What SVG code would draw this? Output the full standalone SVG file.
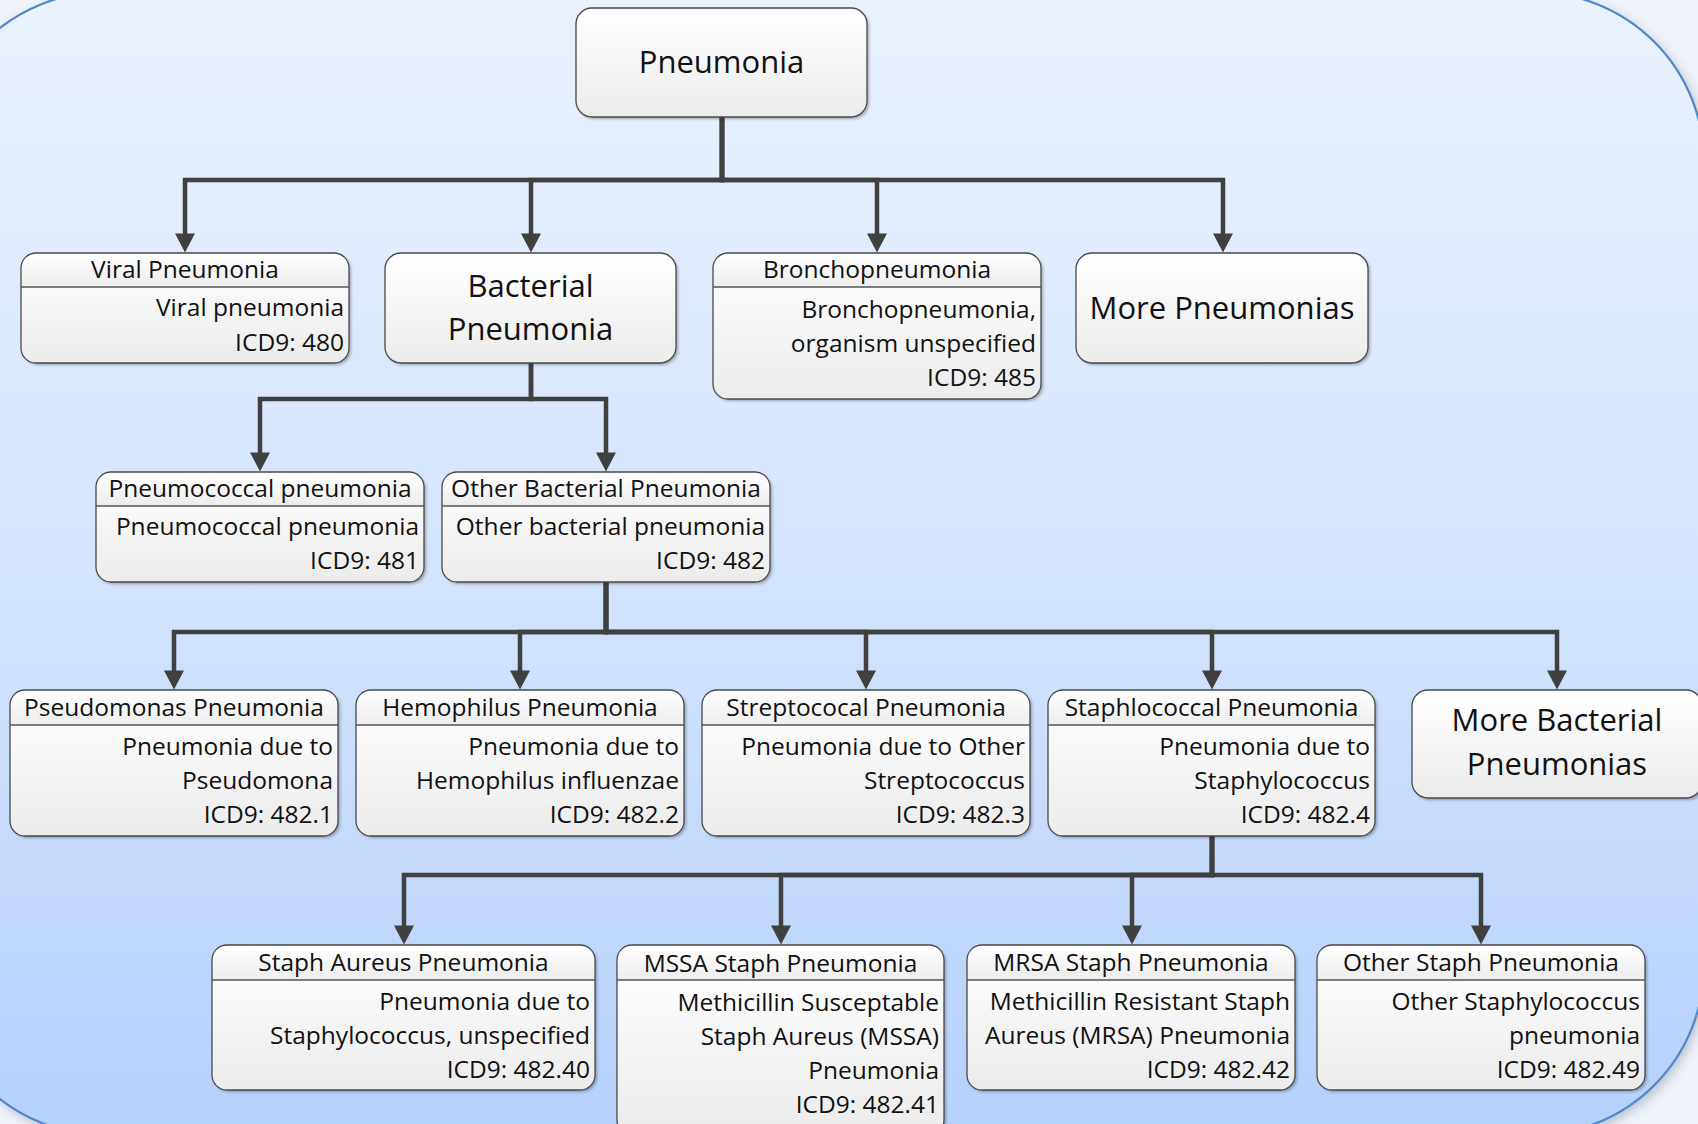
<svg xmlns="http://www.w3.org/2000/svg" width="1698" height="1124" viewBox="0 0 1698 1124">
  <defs>
    <linearGradient id="gPanel" x1="0" y1="0" x2="0" y2="1124" gradientUnits="userSpaceOnUse">
      <stop offset="0" stop-color="#ebf2fe"/>
      <stop offset="0.5" stop-color="#d4e4fd"/>
      <stop offset="1" stop-color="#b6d1fc"/>
    </linearGradient>
    <linearGradient id="gBody" x1="0" y1="0" x2="0" y2="1">
      <stop offset="0" stop-color="#ffffff"/>
      <stop offset="1" stop-color="#ececec"/>
    </linearGradient>
    <linearGradient id="gBar" x1="0" y1="0" x2="0" y2="1">
      <stop offset="0" stop-color="#ffffff"/>
      <stop offset="1" stop-color="#ededed"/>
    </linearGradient>
    <filter id="sh" x="-5%" y="-5%" width="112%" height="115%">
      <feDropShadow dx="2" dy="2" stdDeviation="1.6" flood-color="#000" flood-opacity="0.3"/>
    </filter>
    <filter id="panelShadow" x="-10%" y="-10%" width="120%" height="120%">
      <feGaussianBlur stdDeviation="6"/>
    </filter>
    <marker id="arrow" markerUnits="userSpaceOnUse" markerWidth="20" markerHeight="20" viewBox="0 0 18 19" refX="10" refY="9.5" orient="auto">
      <path d="M0,0 L18,9.5 L0,19 Z" fill="#404040"/>
    </marker>
    <style>
      .box { fill: url(#gBody); filter: url(#sh); }
      .bar { fill: url(#gBar); }
      .edge { fill: none; stroke: #4a4a4a; stroke-width: 1.3; }
      .sep { stroke: #555; stroke-width: 1.3; }
      .t { font-family: 'Open Sans', 'Liberation Sans', sans-serif; font-size: 24.5px; fill: #111; }
      .big { font-size: 31px; }
      .c { text-anchor: middle; }
      .r { text-anchor: end; }
      .link { fill: none; stroke: #404040; stroke-width: 4.5; stroke-linejoin: miter; marker-end: url(#arrow); }
    </style>
  </defs>

  <!-- page and rounded panel -->
  <rect x="0" y="0" width="1698" height="1124" fill="#eff3fa"/>
  <rect x="-62" y="-4" width="1769" height="1143" rx="170" fill="#7f8ca6" opacity="0.55" filter="url(#panelShadow)"/>
  <rect x="-65.5" y="-8" width="1769.5" height="1143" rx="170" fill="url(#gPanel)" stroke="#4d88c9" stroke-width="2.2"/>

  <!-- connectors -->
  <g id="connectors">
    <path class="link" d="M722,117 V180 H185 V244"/>
    <path class="link" d="M722,117 V180 H531 V244"/>
    <path class="link" d="M722,117 V180 H877 V244"/>
    <path class="link" d="M722,117 V180 H1223 V244"/>
    <path class="link" d="M531,363 V399 H260 V463"/>
    <path class="link" d="M531,363 V399 H606 V463"/>
    <path class="link" d="M606,582 V632 H174 V681"/>
    <path class="link" d="M606,582 V632 H520 V681"/>
    <path class="link" d="M606,582 V632 H866 V681"/>
    <path class="link" d="M606,582 V632 H1212 V681"/>
    <path class="link" d="M606,582 V632 H1557 V681"/>
    <path class="link" d="M1212,836 V875 H404 V936"/>
    <path class="link" d="M1212,836 V875 H781 V936"/>
    <path class="link" d="M1212,836 V875 H1132 V936"/>
    <path class="link" d="M1212,836 V875 H1481 V936"/>
  </g>

  <!-- root -->
  <g id="n-pneumonia">
    <rect class="box" x="576" y="8" width="291" height="109" rx="16"/>
    <rect class="edge" x="576" y="8" width="291" height="109" rx="16"/>
    <text class="t big c" x="721.5" y="73">Pneumonia</text>
  </g>

  <!-- level 1 -->
  <g id="n-viral">
    <rect class="box" x="21" y="253" width="328" height="110" rx="15"/>
    <path class="bar" d="M21,287 V268 A15,15 0 0 1 36,253 H334 A15,15 0 0 1 349,268 V287 Z"/>
    <rect class="edge" x="21" y="253" width="328" height="110" rx="15"/>
    <line class="sep" x1="21" y1="287" x2="349" y2="287"/>
    <text class="t c" x="185" y="278">Viral Pneumonia</text>
    <text class="t r" x="344" y="316">Viral pneumonia</text>
    <text class="t r" x="344" y="351">ICD9: 480</text>
  </g>

  <g id="n-bacterial">
    <rect class="box" x="385" y="253" width="291" height="110" rx="16"/>
    <rect class="edge" x="385" y="253" width="291" height="110" rx="16"/>
    <text class="t big c" x="530.5" y="297">Bacterial</text>
    <text class="t big c" x="530.5" y="340">Pneumonia</text>
  </g>

  <g id="n-broncho">
    <rect class="box" x="713" y="253" width="328" height="146" rx="15"/>
    <path class="bar" d="M713,287 V268 A15,15 0 0 1 728,253 H1026 A15,15 0 0 1 1041,268 V287 Z"/>
    <rect class="edge" x="713" y="253" width="328" height="146" rx="15"/>
    <line class="sep" x1="713" y1="287" x2="1041" y2="287"/>
    <text class="t c" x="877" y="278">Bronchopneumonia</text>
    <text class="t r" x="1036" y="318">Bronchopneumonia,</text>
    <text class="t r" x="1036" y="352">organism unspecified</text>
    <text class="t r" x="1036" y="386">ICD9: 485</text>
  </g>

  <g id="n-more">
    <rect class="box" x="1076" y="253" width="292" height="110" rx="16"/>
    <rect class="edge" x="1076" y="253" width="292" height="110" rx="16"/>
    <text class="t big c" x="1222" y="319">More Pneumonias</text>
  </g>

  <!-- level 2 -->
  <g id="n-pneumococcal">
    <rect class="box" x="96" y="472" width="328" height="110" rx="15"/>
    <path class="bar" d="M96,506 V487 A15,15 0 0 1 111,472 H409 A15,15 0 0 1 424,487 V506 Z"/>
    <rect class="edge" x="96" y="472" width="328" height="110" rx="15"/>
    <line class="sep" x1="96" y1="506" x2="424" y2="506"/>
    <text class="t c" x="260" y="497">Pneumococcal pneumonia</text>
    <text class="t r" x="419" y="535">Pneumococcal pneumonia</text>
    <text class="t r" x="419" y="569">ICD9: 481</text>
  </g>

  <g id="n-otherbact">
    <rect class="box" x="442" y="472" width="328" height="110" rx="15"/>
    <path class="bar" d="M442,506 V487 A15,15 0 0 1 457,472 H755 A15,15 0 0 1 770,487 V506 Z"/>
    <rect class="edge" x="442" y="472" width="328" height="110" rx="15"/>
    <line class="sep" x1="442" y1="506" x2="770" y2="506"/>
    <text class="t c" x="606" y="497">Other Bacterial Pneumonia</text>
    <text class="t r" x="765" y="535">Other bacterial pneumonia</text>
    <text class="t r" x="765" y="569">ICD9: 482</text>
  </g>

  <!-- level 3 -->
  <g id="n-pseudomonas">
    <rect class="box" x="10" y="690" width="328" height="146" rx="15"/>
    <path class="bar" d="M10,725 V705 A15,15 0 0 1 25,690 H323 A15,15 0 0 1 338,705 V725 Z"/>
    <rect class="edge" x="10" y="690" width="328" height="146" rx="15"/>
    <line class="sep" x1="10" y1="725" x2="338" y2="725"/>
    <text class="t c" x="174" y="716">Pseudomonas Pneumonia</text>
    <text class="t r" x="333" y="755">Pneumonia due to</text>
    <text class="t r" x="333" y="789">Pseudomona</text>
    <text class="t r" x="333" y="823">ICD9: 482.1</text>
  </g>

  <g id="n-hemophilus">
    <rect class="box" x="356" y="690" width="328" height="146" rx="15"/>
    <path class="bar" d="M356,725 V705 A15,15 0 0 1 371,690 H669 A15,15 0 0 1 684,705 V725 Z"/>
    <rect class="edge" x="356" y="690" width="328" height="146" rx="15"/>
    <line class="sep" x1="356" y1="725" x2="684" y2="725"/>
    <text class="t c" x="520" y="716">Hemophilus Pneumonia</text>
    <text class="t r" x="679" y="755">Pneumonia due to</text>
    <text class="t r" x="679" y="789">Hemophilus influenzae</text>
    <text class="t r" x="679" y="823">ICD9: 482.2</text>
  </g>

  <g id="n-streptococal">
    <rect class="box" x="702" y="690" width="328" height="146" rx="15"/>
    <path class="bar" d="M702,725 V705 A15,15 0 0 1 717,690 H1015 A15,15 0 0 1 1030,705 V725 Z"/>
    <rect class="edge" x="702" y="690" width="328" height="146" rx="15"/>
    <line class="sep" x1="702" y1="725" x2="1030" y2="725"/>
    <text class="t c" x="866" y="716">Streptococal Pneumonia</text>
    <text class="t r" x="1025" y="755">Pneumonia due to Other</text>
    <text class="t r" x="1025" y="789">Streptococcus</text>
    <text class="t r" x="1025" y="823">ICD9: 482.3</text>
  </g>

  <g id="n-staphlococcal">
    <rect class="box" x="1048" y="690" width="327" height="146" rx="15"/>
    <path class="bar" d="M1048,725 V705 A15,15 0 0 1 1063,690 H1360 A15,15 0 0 1 1375,705 V725 Z"/>
    <rect class="edge" x="1048" y="690" width="327" height="146" rx="15"/>
    <line class="sep" x1="1048" y1="725" x2="1375" y2="725"/>
    <text class="t c" x="1211.5" y="716">Staphlococcal Pneumonia</text>
    <text class="t r" x="1370" y="755">Pneumonia due to</text>
    <text class="t r" x="1370" y="789">Staphylococcus</text>
    <text class="t r" x="1370" y="823">ICD9: 482.4</text>
  </g>

  <g id="n-morebact">
    <rect class="box" x="1412" y="690" width="290" height="108" rx="16"/>
    <rect class="edge" x="1412" y="690" width="290" height="108" rx="16"/>
    <text class="t big c" x="1557" y="731">More Bacterial</text>
    <text class="t big c" x="1557" y="775">Pneumonias</text>
  </g>

  <!-- level 4 -->
  <g id="n-staphaureus">
    <rect class="box" x="212" y="945" width="383" height="145" rx="15"/>
    <path class="bar" d="M212,980 V960 A15,15 0 0 1 227,945 H580 A15,15 0 0 1 595,960 V980 Z"/>
    <rect class="edge" x="212" y="945" width="383" height="145" rx="15"/>
    <line class="sep" x1="212" y1="980" x2="595" y2="980"/>
    <text class="t c" x="403.5" y="971">Staph Aureus Pneumonia</text>
    <text class="t r" x="590" y="1010">Pneumonia due to</text>
    <text class="t r" x="590" y="1044">Staphylococcus, unspecified</text>
    <text class="t r" x="590" y="1078">ICD9: 482.40</text>
  </g>

  <g id="n-mssa">
    <rect class="box" x="617" y="945" width="327" height="190" rx="15"/>
    <path class="bar" d="M617,980 V960 A15,15 0 0 1 632,945 H929 A15,15 0 0 1 944,960 V980 Z"/>
    <rect class="edge" x="617" y="945" width="327" height="190" rx="15"/>
    <line class="sep" x1="617" y1="980" x2="944" y2="980"/>
    <text class="t c" x="780.5" y="972">MSSA Staph Pneumonia</text>
    <text class="t r" x="939" y="1011">Methicillin Susceptable</text>
    <text class="t r" x="939" y="1045">Staph Aureus (MSSA)</text>
    <text class="t r" x="939" y="1079">Pneumonia</text>
    <text class="t r" x="939" y="1113">ICD9: 482.41</text>
  </g>

  <g id="n-mrsa">
    <rect class="box" x="967" y="945" width="328" height="145" rx="15"/>
    <path class="bar" d="M967,980 V960 A15,15 0 0 1 982,945 H1280 A15,15 0 0 1 1295,960 V980 Z"/>
    <rect class="edge" x="967" y="945" width="328" height="145" rx="15"/>
    <line class="sep" x1="967" y1="980" x2="1295" y2="980"/>
    <text class="t c" x="1131" y="971">MRSA Staph Pneumonia</text>
    <text class="t r" x="1290" y="1010">Methicillin Resistant Staph</text>
    <text class="t r" x="1290" y="1044">Aureus (MRSA) Pneumonia</text>
    <text class="t r" x="1290" y="1078">ICD9: 482.42</text>
  </g>

  <g id="n-otherstaph">
    <rect class="box" x="1317" y="945" width="328" height="145" rx="15"/>
    <path class="bar" d="M1317,980 V960 A15,15 0 0 1 1332,945 H1630 A15,15 0 0 1 1645,960 V980 Z"/>
    <rect class="edge" x="1317" y="945" width="328" height="145" rx="15"/>
    <line class="sep" x1="1317" y1="980" x2="1645" y2="980"/>
    <text class="t c" x="1481" y="971">Other Staph Pneumonia</text>
    <text class="t r" x="1640" y="1010">Other Staphylococcus</text>
    <text class="t r" x="1640" y="1044">pneumonia</text>
    <text class="t r" x="1640" y="1078">ICD9: 482.49</text>
  </g>
</svg>
